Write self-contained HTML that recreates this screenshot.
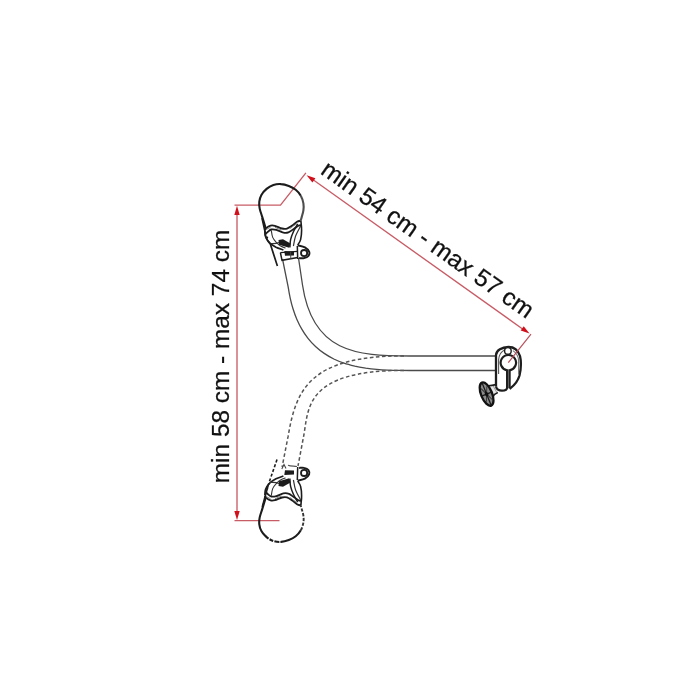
<!DOCTYPE html>
<html><head><meta charset="utf-8">
<style>
html,body{margin:0;padding:0;background:#fff;width:700px;height:700px;overflow:hidden}
svg{display:block;filter:blur(0.5px)}
text{font-family:"Liberation Sans",sans-serif;font-size:24.4px;fill:#111;stroke:#111;stroke-width:0.25px}
</style></head>
<body>
<svg width="700" height="700" viewBox="0 0 700 700">
<defs>
<g id="core" fill="none" stroke="#1c1c1c">
  <path d="M264.9,230.3 C265.1,229.9 265.4,228.9 266.3,228.1 C267.2,227.3 269.2,226.0 270.6,225.6 C272.0,225.2 273.0,225.3 274.9,225.8 C276.8,226.3 280.0,228.0 282.0,228.5 C284.0,229.0 285.2,229.1 287.0,228.6 C288.8,228.1 291.0,226.4 292.7,225.3 C294.4,224.2 295.6,222.6 297.0,221.8 C298.4,221.0 300.2,220.8 300.9,220.6" stroke-width="1.9"/>
  <path d="M265.6,233.1 C266.0,232.7 267.1,231.6 268.0,230.8 C268.9,230.1 269.9,228.9 271.3,228.6 C272.7,228.3 274.3,228.5 276.3,229.0 C278.3,229.5 281.4,231.3 283.4,231.7 C285.4,232.1 286.6,232.1 288.4,231.4 C290.2,230.8 292.4,228.9 294.1,227.8 C295.8,226.7 297.2,225.4 298.4,224.8 C299.6,224.2 300.8,224.3 301.3,224.2" stroke-width="1.8" transform="translate(0,0.9)"/>
  <path d="M266,229.5 L270.5,227.3 M275,227.4 L281.5,230 M290,228.5 L296.5,223.5" stroke-width="0.9" stroke="#777"/>
  <path d="M264.9,231.0 C265.0,231.9 264.8,234.7 265.6,236.7 C266.4,238.7 268.2,241.3 269.9,243.1 C271.6,244.8 273.8,246.0 276.0,247.2 C278.2,248.3 282.2,249.5 283.4,250.0" stroke-width="1.7"/>
  <path d="M271.3,230.3 C271.5,231.5 271.9,235.4 272.7,237.4 C273.5,239.4 275.0,241.0 276.3,242.4 C277.6,243.8 279.1,245.1 280.6,246.0 C282.2,246.9 284.8,247.8 285.6,248.1" stroke-width="1.1" stroke="#333"/>
  <path d="M300.9,221.0 C301.0,222.6 301.7,227.2 301.6,230.3 C301.6,233.4 301.2,237.2 300.6,239.6 C300.0,242.0 298.2,244.1 297.7,245.0" stroke-width="1.6"/>
  <path d="M297.7,223.9 C297.0,225.2 294.6,229.1 293.4,231.7 C292.2,234.3 291.2,237.0 290.6,239.6 C290.0,242.2 290.0,246.1 289.9,247.4" stroke-width="1.5"/>
  <path d="M300.6,226.0 C299.8,227.7 296.8,232.7 295.6,236.0 C294.4,239.3 293.8,244.3 293.4,246.0" stroke-width="1.2" stroke="#333"/>
  <path d="M270,243.5 C274,243.8 277,243.5 279,242.5" stroke-width="1.1" stroke="#333"/>
  <path d="M278.5,240 L283,239.2 L290.5,243.6 L289.2,247.8 L279,244.8 Z" fill="#1c1c1c" stroke="none"/>
  <path d="M284.3,251 L294,251.4 L294,255.4 L285,255.8 Z" fill="#1c1c1c" stroke="none"/>
  <path d="M297.7,245.3 C298.9,245.7 303.0,246.3 304.9,247.4 C306.8,248.5 308.5,250.3 309.1,251.7 C309.7,253.1 309.2,254.9 308.4,256.0 C307.6,257.1 305.7,257.8 304.1,258.1 C302.6,258.5 299.9,258.1 299.1,258.1" stroke-width="2"/>
  <path d="M297.3,246 L297.7,259" stroke-width="1.5"/>
  <circle cx="304.1" cy="253.1" r="3.1" fill="#fff" stroke-width="1.8"/>
  <path d="M266.5,237.2 L268,237.8" stroke-width="1.8"/>
</g>
</defs>

<!-- ===== red dimension lines ===== -->
<g stroke="#c85c66" stroke-width="1.35" fill="none">
  <path d="M237,210 L237,514"/>
  <path d="M234.5,205.1 L280.5,205.1 L305.9,172.9"/>
  <path d="M234.5,520.6 L279.5,520.6"/>
  <path d="M311,178.3 L525,330.7"/>
</g>
<g fill="#d0101a">
  <path d="M237,205.8 L234.3,215 L239.7,215 Z"/>
  <path d="M237,520 L234.3,511 L239.7,511 Z"/>
  <path d="M306.6,175.2 L312.4,182.6 L315.4,178.3 Z"/>
  <path d="M529.5,333.6 L520.7,330.5 L523.7,326.3 Z"/>
</g>

<!-- ===== text ===== -->
<text transform="translate(229,483.2) rotate(-90)">min 58 cm - max 74 cm</text>
<text transform="translate(319.5,173.1) rotate(35.2)">min 54 cm - max 57 cm</text>

<!-- ===== solid tube ===== -->
<g fill="none" stroke="#4a4a4a" stroke-width="1.3">
  <path d="M282.5,259 L288.2,287.1 C288.5,289.0 289.4,294.4 290.2,298.1 C291.0,301.7 291.9,305.3 293.0,308.8 C294.1,312.3 295.3,315.8 296.8,319.2 C298.3,322.6 299.9,326.0 301.8,329.1 C303.6,332.3 305.7,335.4 308.0,338.3 C310.3,341.2 312.8,344.0 315.5,346.5 C318.2,349.0 321.1,351.3 324.2,353.4 C327.2,355.5 330.5,357.3 333.8,359.0 C337.1,360.6 340.6,362.0 344.1,363.2 C347.6,364.4 351.2,365.3 354.8,366.2 C358.4,367.0 362.0,367.6 365.7,368.2 C369.3,368.7 373.0,369.1 376.7,369.4 C380.4,369.8 384.1,370.0 387.8,370.1 C391.5,370.3 395.2,370.4 398.9,370.4 C402.6,370.5 408.1,370.5 410.0,370.5 L495.5,370.5"/>
  <path d="M298.5,258 L302.5,285 C312.5,352.3 356,356 410,356 L495.5,356"/>
</g>
<!-- ===== dashed tube ===== -->
<g fill="none" stroke="#555" stroke-width="1.5" stroke-dasharray="3.6,2.5">
  <path d="M404,355.9 C310,355.9 296,389.1 288.1,436.4 L282.1,467"/>
  <path d="M404,370.4 C304,370.4 308.8,408.9 303.6,436.4 L298,466"/>
</g>

<!-- ===== top clamp ===== -->
<use href="#core"/>
<path d="M265.7,228.3 C265.1,226.4 263.3,220.4 262.3,217.1 C261.3,213.8 260.2,211.2 259.7,208.6 C259.2,206.0 259.0,204.0 259.3,201.7 C259.6,199.4 260.2,197.0 261.4,194.9 C262.6,192.8 264.6,190.6 266.6,188.9 C268.6,187.2 271.0,185.8 273.4,185.0 C275.8,184.2 278.5,183.9 281.1,184.1 C283.7,184.2 286.4,185.0 288.8,185.9 C291.2,186.8 293.7,188.1 295.7,189.7 C297.7,191.3 299.5,193.4 300.8,195.7" fill="none" stroke="#1c1c1c" stroke-width="2.1"/>
<g fill="none" stroke="#1c1c1c">
  <path d="M300.8,195.7 C302.1,198.0 303.0,201.0 303.4,203.4 C303.8,205.8 303.7,208.0 303.4,210.3 C303.1,212.6 302.2,215.3 301.7,217.1 C301.2,218.9 300.8,220.3 300.6,221.0" stroke-width="2.1" stroke="#4d4d4d"/>
  <path d="M262,218.1 L264.9,231 C265,233.5 265.3,236 266.5,238.6 C267.5,240.6 269,242.5 270.3,244 L277.4,266" stroke-width="1.7"/>
  <path d="M280.4,252.7 L282,260.3 L297.7,257.4" stroke-width="1.5"/>
  <path d="M280.4,252.7 L297.6,251.4" stroke-width="1.3"/>
  <path d="M290.6,251.7 L290.8,259" stroke-width="1" stroke="#444"/>
</g>
<!-- ===== bottom clamp (mirrored) ===== -->
<use href="#core" transform="translate(0,726) scale(1,-1)"/>
<path d="M265.7,228.3 C265.1,226.4 263.3,220.4 262.3,217.1 C261.3,213.8 260.2,211.2 259.7,208.6 C259.2,206.0 259.0,204.0 259.3,201.7 C259.6,199.4 260.2,197.0 261.4,194.9 C262.6,192.8 264.6,190.6 266.6,188.9 C268.6,187.2 271.0,185.8 273.4,185.0 C275.8,184.2 278.5,183.9 281.1,184.1 C283.7,184.2 286.4,185.0 288.8,185.9 C291.2,186.8 293.7,188.1 295.7,189.7 C297.7,191.3 299.5,193.4 300.8,195.7" transform="translate(0,726) scale(1,-1)" fill="none" stroke="#1c1c1c" stroke-width="2.1" stroke-dasharray="40,0,5,1.2,4,1.3,5,1"/>
<path d="M300.8,195.7 C302.1,198.0 303.0,201.0 303.4,203.4 C303.8,205.8 303.7,208.0 303.4,210.3 C303.1,212.6 302.2,215.3 301.7,217.1 C301.2,218.9 300.8,220.3 300.6,221.0" transform="translate(0,726) scale(1,-1)" fill="none" stroke="#333" stroke-width="1.9" stroke-dasharray="3.2,1.6"/>
<g fill="none" stroke="#1c1c1c">
  <path d="M277,459.6 L268.2,485" stroke-width="1.6" stroke-dasharray="3,2"/>
  <path d="M268.2,485 L262.3,507" stroke-width="1.7"/>
  <path d="M288,465.2 C291,466.5 294,465.8 297,466.5" stroke-width="1.1" stroke="#555"/>
  <path d="M281.8,469 L284,464.5 L286,468.5" stroke-width="1.1" stroke="#444"/>
</g>
<!-- ===== right clamp ===== -->
<g fill="none" stroke="#1e1e1e">
  <!-- knob stem -->
  <path d="M486,385.5 C489,386.2 492,385.6 496.8,384.4 L497.5,392.5 C495,393.5 493.5,395.5 492.5,397.5 Z" fill="#e6e6e6" stroke="none"/>
  <path d="M486,385.5 C489,386.2 492,385.6 496.8,384.4" stroke-width="1.6"/>
  <path d="M492.3,397.5 C493.5,395 495.5,393.3 497.8,392.4" stroke-width="1.6"/>
  <path d="M493.2,386 L496.5,392" stroke-width="0.8" stroke="#888"/>
  <g transform="rotate(-22 486.6 394.1)">
    <ellipse cx="486.6" cy="394.1" rx="5.5" ry="12.4" fill="#8a8a8a" stroke="#111" stroke-width="2.3"/>
    <path d="M486.6,382 L486.6,406.2 M481.3,394.1 L491.9,394.1" stroke="#1a1a1a" stroke-width="1.3"/>
    <path d="M483.5,387 L489.7,401.2 M489.7,387 L483.5,401.2" stroke="#333" stroke-width="0.9"/>
    <ellipse cx="486.6" cy="394.1" rx="1.7" ry="2.4" fill="#111" stroke="none"/>
  </g>
  <!-- body -->
  <path d="M496,386.5 L496,355 C496.2,350 502,347.3 508.5,347 C514,347 518,350 520,356 C521.2,361 521,369 519.5,375.5 C518,381 514.5,385 510.5,388.2 L509.6,388.6" stroke-width="2.3"/>
  <path d="M496,386.5 C496.7,389.5 499.5,390.6 502,390.6 C505,390.6 507.1,389.5 507.1,387.5" stroke-width="2.2"/>
  <path d="M507.1,388 L507.1,370.3 A7.7,7.7 0 1 1 509.6,370.3 L509.6,388.6" stroke-width="2.2"/>
  <path d="M498.6,374 L498.6,359.9 C499,355 501,351.5 505,349.8" stroke-width="1.1" stroke="#555"/>
  <path d="M512.9,350.6 C516.5,353 518.6,357 518.6,361 L518.6,374" stroke-width="1.1" stroke="#777"/>
  <circle cx="507.9" cy="350.9" r="3.3" stroke-width="1.4" fill="#fff"/>
</g>
<path d="M531,334.2 L508.3,362.6" stroke="#b8505a" stroke-width="1.2" fill="none"/>
</svg>
</body></html>
